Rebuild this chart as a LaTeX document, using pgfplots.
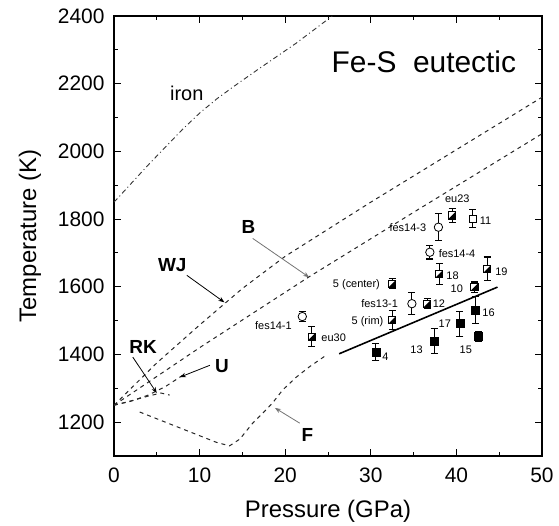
\documentclass[border=0pt]{standalone}
\usepackage{fontspec}
\setmainfont{Liberation Sans}
\usepackage{pgfplots}
\pgfplotsset{compat=1.18}
\usetikzlibrary{arrows.meta}
\pgfdeclareplotmark{halfsq}{%
  \pgfpathrectangle{\pgfpoint{-\pgfplotmarksize}{-\pgfplotmarksize}}{\pgfpoint{2\pgfplotmarksize}{2\pgfplotmarksize}}%
  \pgfusepathqfillstroke
  \begin{pgfscope}%
  \pgfsetfillcolor{black}%
  \pgfpathmoveto{\pgfpoint{\pgfplotmarksize}{\pgfplotmarksize}}%
  \pgfpathlineto{\pgfpoint{\pgfplotmarksize}{-\pgfplotmarksize}}%
  \pgfpathlineto{\pgfpoint{-\pgfplotmarksize}{-\pgfplotmarksize}}%
  \pgfpathclose
  \pgfusepathqfill
  \end{pgfscope}%
}
\begin{document}
\begin{tikzpicture}
\begin{axis}[
  scale only axis, width=428bp, height=440bp,
  xmin=0, xmax=50, ymin=1100, ymax=2400,
  xtick={0,10,...,50}, minor x tick num=1,
  ytick={1200,1400,...,2400}, minor y tick num=1,
  tick align=inside,
  major tick length=7bp, minor tick length=4bp,
  axis line style={line width=1.3pt},
  every tick/.style={line width=1pt, black},
  tick label style={font=\fontsize{21}{21}\selectfont},
  xticklabel style={yshift=-8bp},
  yticklabel style={xshift=-6bp},
  /pgf/number format/assume math mode=true,
  /pgf/number format/1000 sep={},
  xlabel={Pressure (GPa)}, ylabel={Temperature (K)},
  label style={font=\fontsize{24}{24}\selectfont},
  xlabel style={at={(axis description cs:0.5,0)}, anchor=center, yshift=-55bp},
  ylabel style={at={(axis description cs:0,0.5)}, anchor=center, rotate=0, yshift=84bp},
  clip mode=individual,
  error bars/y dir=both, error bars/y explicit,
  error bars/error bar style={line width=1.1pt, black},
  error bars/error mark options={line width=1.1pt, mark size=3.5bp, rotate=90},
]
% curves
\addplot[black!80, line width=0.9pt, dash pattern=on 5pt off 3pt on 1pt off 3pt] coordinates {
 (0,1850) (4,1960) (8,2065) (10,2113) (12,2155) (14,2192) (16.7,2240) (21.3,2320) (25.5,2400)};
\addplot[black!85, line width=1pt, dash pattern=on 4pt off 4pt] coordinates {
 (0,1250) (5,1375) (10,1487) (15,1595) (20,1690) (30,1850) (40,2005) (50,2160)};
\addplot[black!85, line width=1pt, dash pattern=on 4pt off 4pt] coordinates {
 (0,1250) (10,1420) (22.7,1628) (35,1820) (50,2052)};
\addplot[black!85, line width=1pt, dash pattern=on 4pt off 4pt] coordinates {
 (0,1250) (2,1262) (4,1280) (6,1305) (8,1338)};
\addplot[black!85, line width=1pt, dash pattern=on 4pt off 4pt] coordinates {
 (0,1250) (2,1263) (4,1277) (5.5,1286) (6.5,1280)};
\addplot[black!85, line width=1pt, dash pattern=on 4pt off 4pt] coordinates {
 (3,1230) (5,1210) (7.5,1185) (10,1160) (12,1140) (13.5,1130) (14.7,1150) (16.2,1197) (17.4,1227) (18.5,1256) (19.7,1295) (21.3,1333) (22.8,1363) (24.8,1398)};
% fit line
\addplot[black, line width=1.6pt] coordinates {(26.3,1402) (44.8,1599)};
% open circles
\addplot[only marks, mark=*, mark size=4.2bp, mark options={fill=white, draw=black, line width=0.8pt}]
 table[x=x, y=y, y error=e] {
 x y e
 37.9 1776 40
 36.9 1702 20
 34.8 1550 33
 22.0 1512 15
 };
% open square
\addplot[only marks, mark=square*, mark size=3.6bp, mark options={fill=white, draw=black, line width=0.8pt}]
 table[x=x, y=y, y error=e] {
 x y e
 41.9 1801 26
 };
% half-filled squares
\addplot[only marks, mark=halfsq, mark size=3.6bp, mark options={fill=white, draw=black, line width=0.8pt}]
 table[x=x, y=y, y error=e] {
 x y e
 39.5 1811 20
 32.5 1609 15
 36.6 1550 15
 32.5 1502 28
 23.1 1453 30
 38.0 1638 30
 43.6 1653 35
 42.1 1599 15
 };
% filled squares
\addplot[only marks, mark=square*, mark size=4bp, mark options={fill=black, draw=black}]
 table[x=x, y=y, y error=e] {
 x y e
 30.6 1407 25
 37.4 1439 37
 40.4 1491 37
 42.2 1532 40
 42.6 1453 15
 };
% point labels
\begin{scope}[every node/.style={font=\fontsize{11}{11}\selectfont, inner sep=1pt}]
\node at (axis cs:40.1,1860) {eu23};
\node[anchor=west] at (axis cs:42.6,1794) {11};
\node[anchor=east] at (axis cs:36.6,1776) {fes14-3};
\node[anchor=west] at (axis cs:37.8,1697) {fes14-4};
\node[anchor=west] at (axis cs:38.7,1633) {18};
\node[anchor=west] at (axis cs:44.4,1643) {19};
\node[anchor=east] at (axis cs:40.9,1594) {10};
\node[anchor=east] at (axis cs:31.2,1607) {5 (center)};
\node[anchor=east] at (axis cs:33.3,1550) {fes13-1};
\node[anchor=west] at (axis cs:37.1,1550) {12};
\node[anchor=east] at (axis cs:31.6,1498) {5 (rim)};
\node[anchor=east] at (axis cs:20.9,1484) {fes14-1};
\node[anchor=west] at (axis cs:24.1,1449) {eu30};
\node[anchor=west] at (axis cs:31.2,1392) {4};
\node[anchor=east] at (axis cs:36.2,1414) {13};
\node[anchor=east] at (axis cs:39.5,1491) {17};
\node[anchor=west] at (axis cs:42.9,1522) {16};
\node at (axis cs:41.1,1414) {15};
\end{scope}
% curve labels
\node[font=\fontsize{30}{30}\selectfont] at (axis cs:36.2,2265) {Fe-S\ \ eutectic};
\node[font=\fontsize{20}{20}\selectfont] at (axis cs:8.5,2171) {iron};
\node[font=\bfseries\fontsize{19}{19}\selectfont] at (axis cs:15.7,1778) {B};
\node[font=\bfseries\fontsize{19}{19}\selectfont] at (axis cs:6.8,1663) {WJ};
\node[font=\bfseries\fontsize{19}{19}\selectfont] at (axis cs:3.4,1422) {RK};
\node[font=\bfseries\fontsize{19}{19}\selectfont] at (axis cs:12.6,1365) {U};
\node[font=\bfseries\fontsize{19}{19}\selectfont] at (axis cs:22.6,1162) {F};
\draw[black!55, line width=0.8pt, -{Stealth[length=6pt]}] (axis cs:16.2,1743) -- (axis cs:22.8,1628);
\draw[black, line width=0.8pt, -{Stealth[length=6pt]}] (axis cs:8.5,1634) -- (axis cs:12.9,1554);
\draw[black, line width=0.8pt, -{Stealth[length=6pt]}] (axis cs:2.2,1392) -- (axis cs:5.0,1286);
\draw[black, line width=0.8pt, -{Stealth[length=6pt]}] (axis cs:11.2,1368) -- (axis cs:7.7,1333);
\draw[black!55, line width=0.8pt, -{Stealth[length=6pt]}] (axis cs:21.7,1197) -- (axis cs:18.8,1242);
\end{axis}
\useasboundingbox ([shift={(-114bp,-67bp)}]current axis.south west) rectangle ([shift={(17bp,16bp)}]current axis.north east);
\end{tikzpicture}
\end{document}
